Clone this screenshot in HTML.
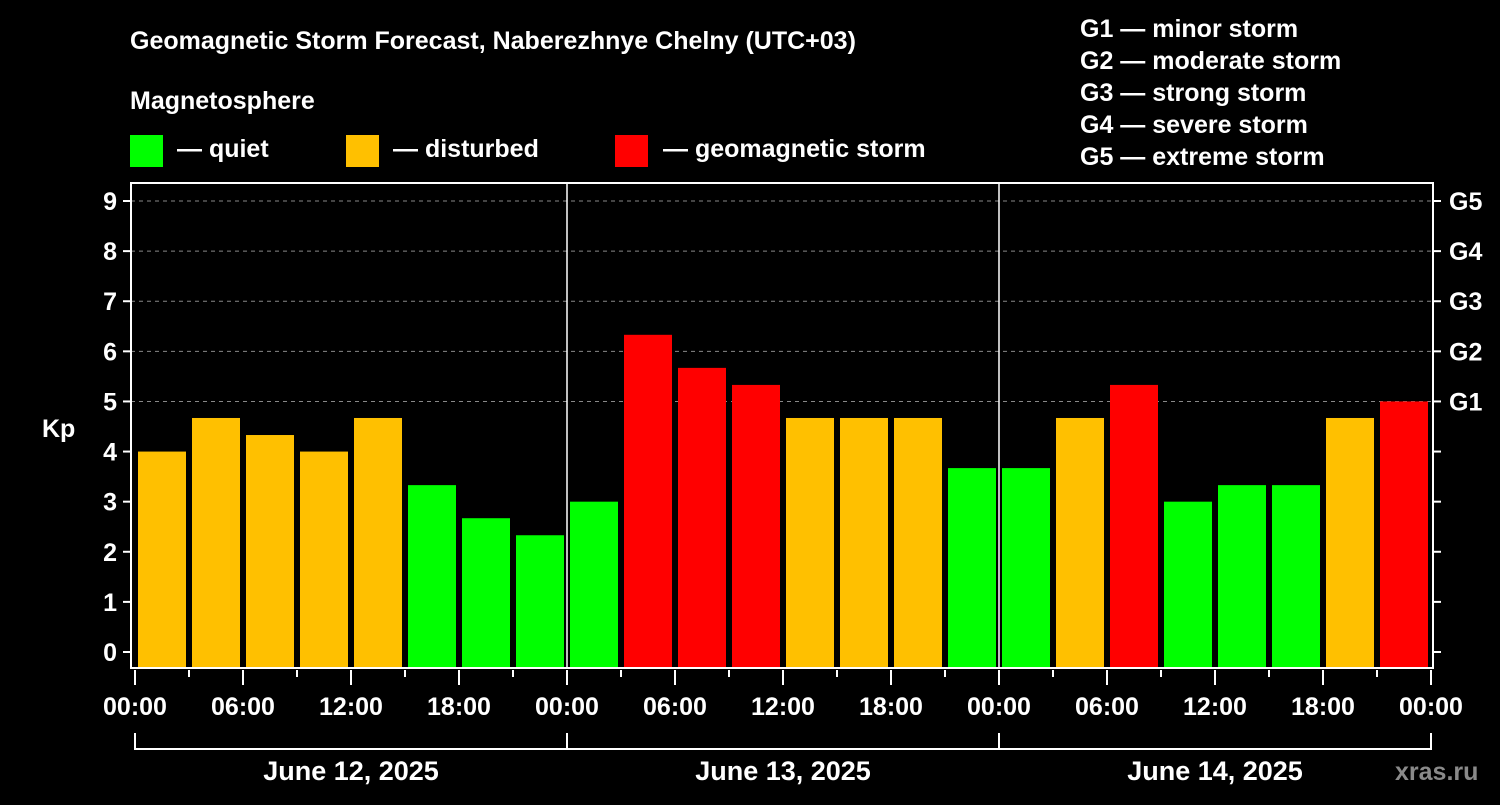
<!DOCTYPE html>
<html><head><meta charset="utf-8"><style>
body{margin:0;background:#000;width:1500px;height:800px;overflow:hidden}
svg text{font-family:"Liberation Sans",Arial,sans-serif;font-weight:bold;fill:#fff}
</style></head><body>
<svg id="c" width="1500" height="800" xmlns="http://www.w3.org/2000/svg">
<rect width="1500" height="800" fill="#000"/>
<text x="130" y="49" font-size="25">Geomagnetic Storm Forecast, Naberezhnye Chelny (UTC+03)</text>
<text x="130" y="109" font-size="25">Magnetosphere</text>
<g>
<rect x="130" y="135" width="33" height="32" fill="#00ff00"/>
<text x="177" y="157" font-size="25">— quiet</text>
<rect x="346" y="135" width="33" height="32" fill="#ffc000"/>
<text x="393" y="157" font-size="25">— disturbed</text>
<rect x="615" y="135" width="33" height="32" fill="#ff0000"/>
<text x="663" y="157" font-size="25">— geomagnetic storm</text>
</g>
<g font-size="25">
<text x="1080" y="37">G1 — minor storm</text>
<text x="1080" y="69">G2 — moderate storm</text>
<text x="1080" y="101">G3 — strong storm</text>
<text x="1080" y="133">G4 — severe storm</text>
<text x="1080" y="165">G5 — extreme storm</text>
</g>
<g id="plot"></g>
<text x="42" y="437" font-size="25">Kp</text>
<text x="1395" y="780" font-size="25" fill="#888" style="fill:#8a8a8a">xras.ru</text>
</svg>
<script>
const kpValues=[4,4.67,4.33,4,4.67,3.33,2.67,2.33, 3,6.33,5.67,5.33,4.67,4.67,4.67,3.67, 3.67,4.67,5.33,3,3.33,3.33,4.67,5];
const dayLabels=["June 12, 2025","June 13, 2025","June 14, 2025"];
const hourLabels=["00:00","06:00","12:00","18:00"];
const gLabels=["G1","G2","G3","G4","G5"];
const NS="http://www.w3.org/2000/svg";
const L=131,R=1433,T=183,B=668,X0=135,DAY=432;
const y=v=>652-v*50.11;
const x=h=>X0+h/24*DAY;
const p=document.getElementById('plot');
function mk(t,a,txt){const e=document.createElementNS(NS,t);for(const k in a)e.setAttribute(k,a[k]);if(txt!=null)e.textContent=txt;p.appendChild(e);return e;}
// grid
for(let v=5;v<=9;v++){const g=mk('line',{x1:L,x2:R,y1:y(v),y2:y(v),stroke:'#888','stroke-dasharray':'4,4','stroke-width':1});

}
// bars
kpValues.forEach((v,i)=>{const c=v>=5?'#ff0000':(v>=4?'#ffc000':'#00ff00');
const r=mk('rect',{x:x(i*3)+3,y:y(v),width:48,height:B-y(v),fill:c});

});
// day separators
for(let d=1;d<3;d++){const l=mk('line',{x1:x(d*24),x2:x(d*24),y1:T,y2:B,stroke:'#fff','stroke-width':1.5});

}
// frame
const f=mk('rect',{x:L,y:T,width:R-L,height:B-T,fill:'none',stroke:'#fff','stroke-width':2});


// y ticks
for(let v=0;v<=9;v++){mk('line',{x1:L-8,x2:L,y1:y(v),y2:y(v),stroke:'#fff','stroke-width':2});
mk('line',{x1:R,x2:R+8,y1:y(v),y2:y(v),stroke:'#fff','stroke-width':2});
const t=mk('text',{x:L-14,y:y(v)+9,'font-size':25,'text-anchor':'end'},v);

}
gLabels.forEach((g,i)=>{const t=mk('text',{x:R+16,y:y(5+i)+9,'font-size':25},g);

});
// x ticks
for(let h=0;h<=72;h+=3){const big=h%6==0;mk('line',{x1:x(h),x2:x(h),y1:B+2,y2:B+(big?17:9),stroke:'#fff','stroke-width':2});}
for(let h=0;h<=72;h+=6){const t=mk('text',{x:x(h),y:715,'font-size':25,'text-anchor':'middle'},hourLabels[(h/6)%4]);

}
// day brackets
dayLabels.forEach((d,i)=>{const a=x(i*24),b=x((i+1)*24);
mk('path',{d:`M${a},733V749H${b}V733`,stroke:'#fff','stroke-width':2,fill:'none'});
const t=mk('text',{x:(a+b)/2,y:780,'font-size':27,'text-anchor':'middle'},d);

});
</script>
</body></html>
